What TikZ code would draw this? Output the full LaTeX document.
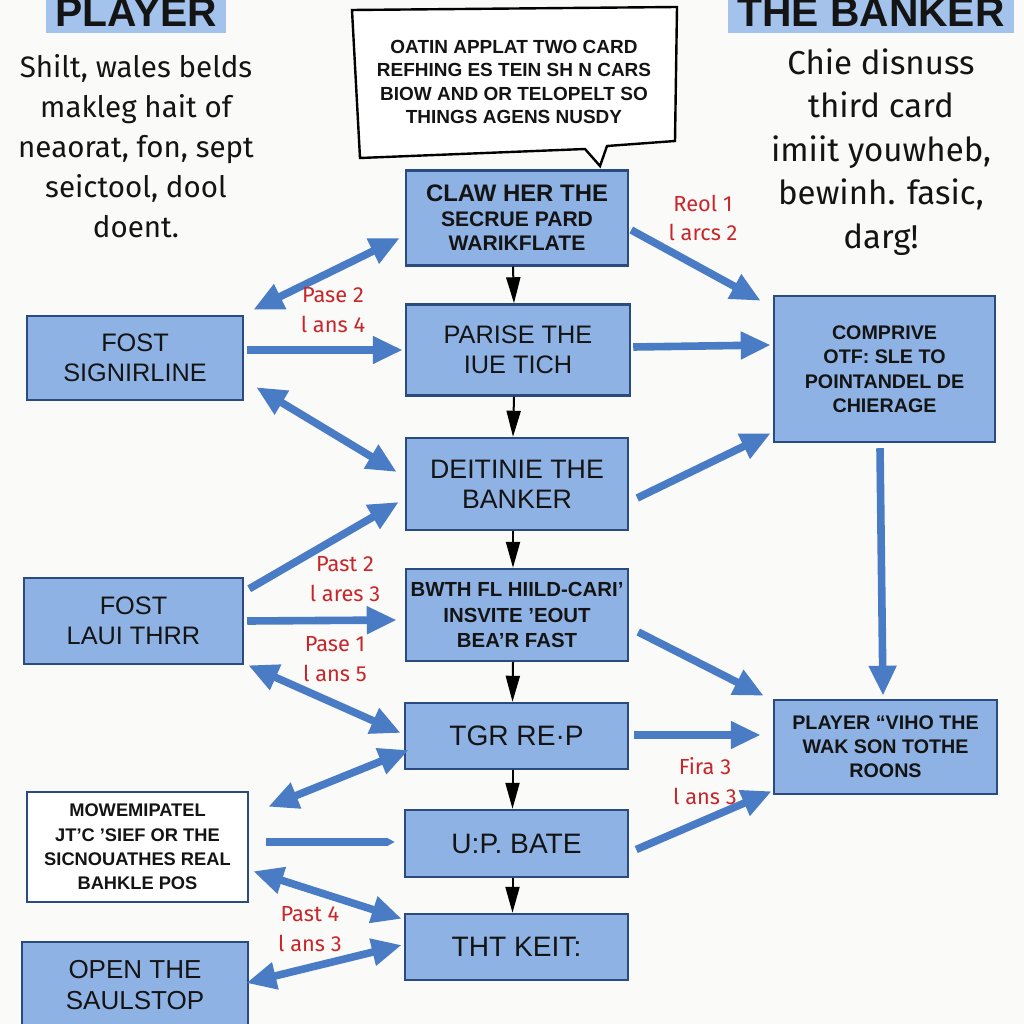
\documentclass[tikz,border=0pt]{standalone}
\usepackage{fontspec}
\setmainfont{Liberation Sans}
\newfontfamily\handfont{Fira Sans}
\usetikzlibrary{arrows.meta,calc}

\definecolor{boxfill}{HTML}{8EB2E4}
\definecolor{boxline}{HTML}{2A4A80}
\definecolor{arrowblue}{HTML}{4A7BC5}
\definecolor{headfill}{HTML}{A3C3EC}
\definecolor{notered}{HTML}{C8262B}
\definecolor{paper}{HTML}{FAFAF8}

\begin{document}
\begin{tikzpicture}[x=0.025cm,y=-0.025cm,
    >={Triangle[length=6.5mm,width=3.5mm]},
    every node/.style={text=black!92},
    box/.style 2 args={draw=boxline,fill=boxfill,line width=0.6mm,align=center,
      inner sep=0pt,minimum width=#1*0.25mm,minimum height=#2*0.25mm},
    bigtxt/.style={font=\fontsize{18}{21.5}\selectfont},
    smalltxt/.style={font=\fontsize{14}{17.4}\selectfont\bfseries},
    headlbl/.style={fill=headfill,font=\fontsize{29}{30}\selectfont\bfseries,
      inner xsep=2.3mm,inner ysep=1.6mm,text depth=0pt},
    hand/.style={align=center,font=\handfont\fontsize{21}{28.5}\selectfont},
    redlbl/.style={align=center,text=notered,font=\handfont\fontsize{15.5}{21}\selectfont},
    barrow/.style={draw=arrowblue,line width=1.9mm,
      >={Triangle[length=7.5mm,width=6.5mm]}},
    flow/.style={draw=black,line width=0.5mm}]
  \useasboundingbox (0,0) rectangle (1024,1024);
  \fill[paper] (0,0) rectangle (1024,1024);

  % headers and notes
  \node[headlbl,anchor=base] (hplayer) at (136,27) {PLAYER};
  \node[headlbl,anchor=base] (hbanker) at (871,27) {THE BANKER};
  \node[hand] (leftnote) at (136,146) {Shilt, wales belds\\makleg hait of\\neaorat, fon, sept\\seictool, dool\\doent.};
  \node[hand,font=\handfont\fontsize{23.5}{31}\selectfont] (rightnote) at (881,152)
    {Chie disnuss\\third card\\imiit youwheb,\\bewinh. fasic,\\darg!};

  % speech bubble
  \draw[line width=0.6mm,fill=white] (352,10) -- (677,7) -- (675,141) -- (607,146)
    -- (600,166) -- (585,149) -- (360,158) -- cycle;
  \node[align=center,font=\fontsize{13.5}{16.6}\selectfont\bfseries] (bubble) at (514,82)
    {OATIN APPLAT TWO CARD\\REFHING ES TEIN SH N CARS\\BIOW AND OR TELOPELT SO\\THINGS AGENS NUSDY};

  % centre column
  \node[box={222}{95},font=\fontsize{15}{17.5}\selectfont\bfseries] (claw) at (517,218)
    {{\fontsize{17}{17.5}\selectfont CLAW HER THE}\\SECRUE PARD\\WARIKFLATE};
  \node[box={224}{91},bigtxt] (parise) at (518,350) {PARISE THE\\IUE TICH};
  \node[box={222}{92},font=\fontsize{19}{21.5}\selectfont] (deitinie) at (517,484) {DEITINIE THE\\BANKER};
  \node[box={222}{92},font=\fontsize{14.5}{17.8}\selectfont\bfseries] (bwth) at (517,615)
    {BWTH FL HIILD-CARI'\\INSVITE 'EOUT\\BEA'R FAST};
  \node[box={223}{66},font=\fontsize{20}{22}\selectfont] (tgr) at (516.5,736) {TGR RE·P};
  \node[box={223}{67},font=\fontsize{20}{22}\selectfont] (upbate) at (516.5,843.5) {U:P. BATE};
  \node[box={223}{66},font=\fontsize{20}{22}\selectfont] (thtkeit) at (516.5,947) {THT KEIT:};

  % left column
  \node[box={216}{84},bigtxt] (fost1) at (135,358) {FOST\\SIGNIRLINE};
  \node[box={219}{86},bigtxt] (laui) at (133.5,621) {FOST\\LAUI THRR};
  \node[box={221}{110},fill=white,font=\fontsize{13}{17.3}\selectfont\bfseries] (mowem) at (137.5,847)
    {MOWEMIPATEL\\JT'C 'SIEF OR THE\\SICNOUATHES REAL\\BAHKLE POS};
  \node[box={226}{86},font=\fontsize{18.5}{21.5}\selectfont] (opent) at (135,985) {OPEN THE\\SAULSTOP};

  % right column
  \node[box={221}{146},smalltxt] (comprive) at (884.5,369)
    {COMPRIVE\\OTF: SLE TO\\POINTANDEL DE\\CHIERAGE};
  \node[box={223}{94},smalltxt,font=\fontsize{14}{17}\selectfont\bfseries] (playerwho) at (885.5,747)
    {PLAYER “VIHO THE\\WAK SON TOTHE\\ROONS};

  \foreach \a/\b in {claw/parise,parise/deitinie,deitinie/bwth,bwth/tgr,tgr/upbate,upbate/thtkeit}
    \draw[flow,->] ([xshift=-1mm]\a.south) -- ([xshift=-1mm]\b.north);

  % blue connectors, left side
  \draw[barrow,<->] ([shift={(9,-5)}]fost1.north east) -- ([shift={(-5,20)}]claw.west);
  \draw[barrow,->] ([shift={(3,-8)}]fost1.east) -- ([shift={(-2,0)}]parise.west);
  \draw[barrow,<->] ([shift={(12,-14)}]fost1.south east) -- ([shift={(-8,-12)}]deitinie.west);
  \draw[barrow,->] ([shift={(5,12)}]laui.north east) -- ([shift={(-6,18)}]deitinie.west);
  \draw[barrow,->] ([shift={(3,0)}]laui.east) -- ([shift={(-8,5)}]bwth.west);
  \draw[barrow,<->] ([shift={(4,0)}]laui.south east) -- ([shift={(-3,-3)}]tgr.west);
  \draw[barrow,<->] ([shift={(19,16)}]mowem.north east) -- ([shift={(5,14)}]tgr.west);
  \draw[barrow,-{Triangle[length=2mm,width=2mm]}] ([shift={(17,-5)}]mowem.east) -- ([shift={(-9,-1.5)}]upbate.west);
  \draw[barrow,<->] ([shift={(4,-32)}]mowem.south east) -- ([shift={(-2,6)}]thtkeit.north west);
  \draw[barrow,<->] ([shift={(-3,-2)}]opent.east) -- ([shift={(-2,-2)}]thtkeit.west);

  % blue connectors, right side
  \draw[barrow,->] ([shift={(2,12)}]claw.east) -- ([shift={(-12,6)}]comprive.north west);
  \draw[barrow,->] ([shift={(2,-3)}]parise.east) -- ([shift={(-2,-24)}]comprive.west);
  \draw[barrow,->] ([shift={(8,14)}]deitinie.east) -- ([shift={(-2,-10)}]comprive.south west);
  \draw[barrow,->] ([shift={(9,17)}]bwth.east) -- ([shift={(-9,-3)}]playerwho.north west);
  \draw[barrow,->] ([shift={(5,-1)}]tgr.east) -- ([shift={(-12,-12)}]playerwho.west);
  \draw[barrow,->] ([shift={(7,6)}]upbate.east) -- ([shift={(-1,-4)}]playerwho.south west);
  \draw[barrow,->] ([shift={(-4.5,5)}]comprive.south) -- ([shift={(-2.5,-3)}]playerwho.north);

  % red notes
  \node[redlbl] (lab1) at (703,218) {Reol 1\\l arcs 2};
  \node[redlbl] (lab2) at (333,310) {Pase 2\\l ans 4};
  \node[redlbl] (lab3) at (345,579) {Past 2\\l ares 3};
  \node[redlbl] (lab4) at (335,659) {Pase 1\\l ans 5};
  \node[redlbl] (lab5) at (705,781) {Fira 3\\l ans 3};
  \node[redlbl] (lab6) at (310,929) {Past 4\\l ans 3};
\end{tikzpicture}
\end{document}
